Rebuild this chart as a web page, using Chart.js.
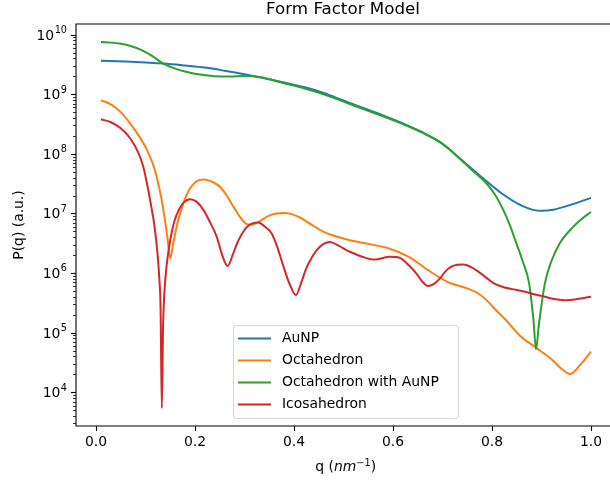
<!DOCTYPE html>
<html>
<head>
<meta charset="utf-8">
<script src="https://cdn.jsdelivr.net/npm/chart.js@4"></script>
<style>
html, body { margin: 0; padding: 0; background: #fff; overflow: hidden; }
#wrap { width: 610px; height: 483px; position: relative; }
</style>
</head>
<body>
<div id="wrap"><canvas id="ffChart"></canvas></div>
<script>
// series names and colours (matplotlib tab10)
const seriesNames = ['AuNP', 'Octahedron', 'Octahedron with AuNP', 'Icosahedron'];
const seriesColors = ['#1f77b4', '#ff7f0e', '#2ca02c', '#d62728'];

// values
const qAuNP = [0.01, 0.06, 0.10, 0.136, 0.18, 0.22, 0.26, 0.30, 0.34, 0.38, 0.42, 0.46, 0.50, 0.54, 0.58, 0.62, 0.66, 0.70, 0.74, 0.78, 0.82, 0.86, 0.883, 0.90, 0.924, 0.96, 1.0];
const pAuNP = [3.66e9, 3.53e9, 3.40e9, 3.27e9, 3.03e9, 2.80e9, 2.48e9, 2.16e9, 1.86e9, 1.58e9, 1.32e9, 1.05e9, 7.85e8, 5.89e8, 4.42e8, 3.24e8, 2.29e8, 1.48e8, 7.76e7, 4.03e7, 2.16e7, 1.35e7, 1.15e7, 1.11e7, 1.16e7, 1.41e7, 1.83e7];

const qOcta = [0.01, 0.03, 0.05, 0.07, 0.09, 0.103, 0.115, 0.123, 0.131, 0.138, 0.144, 0.150, 0.155, 0.160, 0.167, 0.174, 0.182, 0.190, 0.204, 0.219, 0.235, 0.251, 0.265, 0.278, 0.292, 0.305, 0.315, 0.325, 0.352, 0.379, 0.395, 0.412, 0.436, 0.460, 0.487, 0.513, 0.55, 0.592, 0.632, 0.671, 0.710, 0.750, 0.770, 0.789, 0.808, 0.828, 0.859, 0.891, 0.922, 0.940, 0.958, 0.978, 1.0];
const pOcta = [7.92e8, 6.76e8, 5.01e8, 3.16e8, 1.82e8, 1.17e8, 6.76e7, 3.98e7, 2.0e7, 9.12e6, 4.17e6, 1.76e6, 2.82e6, 4.62e6, 8.32e6, 1.29e7, 1.95e7, 2.62e7, 3.51e7, 3.72e7, 3.39e7, 2.79e7, 1.95e7, 1.29e7, 8.51e6, 6.62e6, 6.46e6, 6.97e6, 9.38e6, 1.02e7, 9.77e6, 8.57e6, 6.46e6, 4.92e6, 4.07e6, 3.57e6, 3.09e6, 2.59e6, 1.88e6, 1.12e6, 7.14e5, 5.53e5, 4.68e5, 3.52e5, 2.40e5, 1.63e5, 8.55e4, 5.47e4, 3.48e4, 2.51e4, 2.03e4, 2.87e4, 4.80e4];

const qOctaAu = [0.01, 0.03, 0.05, 0.07, 0.09, 0.11, 0.136, 0.16, 0.184, 0.21, 0.24, 0.27, 0.30, 0.33, 0.38, 0.42, 0.46, 0.50, 0.54, 0.58, 0.62, 0.66, 0.70, 0.74, 0.76, 0.789, 0.805, 0.823, 0.835, 0.847, 0.862, 0.875, 0.884, 0.889, 0.895, 0.907, 0.92, 0.937, 0.964, 0.98, 1.0];
const pOctaAu = [7.52e9, 7.35e9, 7.02e9, 6.46e9, 5.62e9, 4.57e9, 3.27e9, 2.69e9, 2.36e9, 2.14e9, 2.01e9, 1.99e9, 2.02e9, 1.95e9, 1.53e9, 1.26e9, 1.0e9, 7.55e8, 5.65e8, 4.27e8, 3.16e8, 2.26e8, 1.47e8, 7.59e7, 5.31e7, 3.18e7, 2.14e7, 1.14e7, 6.76e6, 3.57e6, 1.58e6, 6.79e5, 1.58e5, 5.26e4, 1.41e5, 6.79e5, 1.58e6, 3.18e6, 5.97e6, 7.94e6, 1.06e7];

const qIcosa = [0.01, 0.03, 0.05, 0.07, 0.085, 0.095, 0.103, 0.111, 0.118, 0.124, 0.128, 0.1305, 0.133, 0.1355, 0.138, 0.143, 0.150, 0.158, 0.167, 0.178, 0.190, 0.203, 0.217, 0.230, 0.244, 0.255, 0.266, 0.276, 0.285, 0.295, 0.305, 0.316, 0.328, 0.341, 0.355, 0.367, 0.379, 0.392, 0.404, 0.415, 0.426, 0.436, 0.446, 0.460, 0.473, 0.490, 0.513, 0.538, 0.561, 0.578, 0.592, 0.605, 0.616, 0.632, 0.647, 0.660, 0.671, 0.683, 0.695, 0.706, 0.717, 0.730, 0.742, 0.758, 0.773, 0.789, 0.804, 0.828, 0.848, 0.867, 0.887, 0.907, 0.925, 0.946, 0.972, 1.0];
const pIcosa = [3.81e8, 3.39e8, 2.69e8, 1.78e8, 1.07e8, 6.31e7, 3.18e7, 1.41e7, 6.31e6, 2.24e6, 7.94e5, 2.51e5, 5.40e3, 1.26e5, 4.47e5, 1.41e6, 3.57e6, 7.24e6, 1.14e7, 1.55e7, 1.74e7, 1.58e7, 1.15e7, 7.24e6, 4.06e6, 2.0e6, 1.31e6, 2.0e6, 3.14e6, 4.57e6, 5.97e6, 6.84e6, 7.06e6, 6.03e6, 4.62e6, 2.63e6, 1.27e6, 6.31e5, 4.28e5, 7.08e5, 1.27e6, 1.82e6, 2.43e6, 3.09e6, 3.34e6, 2.88e6, 2.28e6, 1.88e6, 1.69e6, 1.78e6, 1.88e6, 1.86e6, 1.76e6, 1.35e6, 9.89e5, 7.08e5, 6.05e5, 6.61e5, 8.15e5, 1.07e6, 1.27e6, 1.38e6, 1.40e6, 1.26e6, 1.05e6, 8.32e5, 6.71e5, 5.66e5, 5.25e5, 4.85e5, 4.37e5, 4.0e5, 3.67e5, 3.52e5, 3.67e5, 4.0e5];

const xTicks = [0, 0.2, 0.4, 0.6, 0.8, 1.0];
const yTicks = [1e4, 1e5, 1e6, 1e7, 1e8, 1e9, 1e10];

const FONT = 'DejaVu Sans';

function toPoints(q, p) {
    return q.map((x, i) => ({ x: x, y: p[i] }));
}

// spines, tick marks, 10^n labels, x label and legend like matplotlib draws them
const axesDecor = {
    id: 'axesDecor',
    afterDraw(chart) {
        const { ctx, chartArea: a, scales: { x, y } } = chart;
        const fN = '13.9px "' + FONT + '"';
        const fI = 'italic 13.9px "' + FONT + '"';
        const fS = '9.7px "' + FONT + '"';
        ctx.save();
        ctx.strokeStyle = '#000';
        ctx.lineWidth = 1.1;
        ctx.beginPath();
        ctx.moveTo(a.right + 2, a.top);
        ctx.lineTo(a.left, a.top);
        ctx.lineTo(a.left, a.bottom);
        ctx.lineTo(a.right + 2, a.bottom);
        ctx.stroke();

        // x ticks
        xTicks.forEach(v => {
            const px = Math.round(x.getPixelForValue(v)) + 0.5;
            ctx.beginPath();
            ctx.moveTo(px, a.bottom);
            ctx.lineTo(px, a.bottom + 5);
            ctx.stroke();
        });

        // y ticks, major and minor
        for (let e = 3; e <= 10; e++) {
            for (let k = 1; k <= 9; k++) {
                const v = k * Math.pow(10, e);
                if (v < y.min || v > y.max) continue;
                const py = Math.round(y.getPixelForValue(v)) + 0.5;
                ctx.lineWidth = k === 1 ? 1.1 : 0.8;
                ctx.beginPath();
                ctx.moveTo(a.left, py);
                ctx.lineTo(a.left - (k === 1 ? 5 : 3), py);
                ctx.stroke();
            }
        }

        // y tick labels 10^n with a raised exponent
        ctx.fillStyle = '#000';
        ctx.textBaseline = 'alphabetic';
        ctx.textAlign = 'left';
        yTicks.forEach(v => {
            const py = y.getPixelForValue(v);
            const ex = String(Math.round(Math.log10(v)));
            ctx.font = fN; const wb = ctx.measureText('10').width;
            ctx.font = fS; const we = ctx.measureText(ex).width;
            const x0 = a.left - 9.5 - wb - we;
            ctx.font = fN; ctx.fillText('10', x0, py + 5);
            ctx.font = fS; ctx.fillText(ex, x0 + wb + 0.5, py - 1.7);
        });

        // x axis label: q (nm^-1), nm in italic
        const cx = x.getPixelForValue(0.5045);
        const base = 471;
        ctx.font = fN; const w1 = ctx.measureText('q (').width; const w4 = ctx.measureText(')').width;
        ctx.font = fI; const w2 = ctx.measureText('nm').width;
        ctx.font = fS; const w3 = ctx.measureText('−1').width;
        let tx = cx - (w1 + w2 + w3 + w4) / 2;
        ctx.font = fN; ctx.fillText('q (', tx, base); tx += w1;
        ctx.font = fI; ctx.fillText('nm', tx, base); tx += w2;
        ctx.font = fS; ctx.fillText('−1', tx, base - 5.5); tx += w3;
        ctx.font = fN; ctx.fillText(')', tx, base);

        // legend
        ctx.fillStyle = 'rgba(255,255,255,0.8)';
        ctx.strokeStyle = 'rgba(204,204,204,0.8)';
        ctx.lineWidth = 1;
        ctx.beginPath();
        ctx.roundRect(233.5, 325.5, 225, 93, 3);
        ctx.fill();
        ctx.stroke();
        ctx.font = fN;
        ctx.textBaseline = 'middle';
        chart.data.datasets.forEach((ds, i) => {
            const ly = 338.5 + i * 22;
            ctx.strokeStyle = ds.borderColor;
            ctx.lineWidth = 2;
            ctx.beginPath();
            ctx.moveTo(238, ly);
            ctx.lineTo(271, ly);
            ctx.stroke();
            ctx.fillStyle = '#000';
            ctx.fillText(ds.label, 282, ly);
        });
        ctx.restore();
    }
};

const allQ = [qAuNP, qOcta, qOctaAu, qIcosa];
const allP = [pAuNP, pOcta, pOctaAu, pIcosa];

const ctx1 = document.getElementById('ffChart').getContext('2d');
new Chart(ctx1, {
    type: 'line',
    data: {
        datasets: seriesNames.map((name, i) => ({
            label: name,
            data: toPoints(allQ[i], allP[i]),
            borderColor: seriesColors[i],
            backgroundColor: seriesColors[i],
            borderWidth: 2,
            pointRadius: 0,
            fill: false,
            cubicInterpolationMode: 'monotone',
            order: seriesNames.length - i // later series on top, as in matplotlib
        }))
    },
    options: {
        responsive: true,
        maintainAspectRatio: false,
        animation: false,
        layout: { padding: 0 },
        plugins: {
            legend: { display: false },
            tooltip: { enabled: false },
            title: {
                display: true,
                text: 'Form Factor Model',
                fullSize: false,
                color: '#000',
                font: { family: FONT, size: 16.7, weight: 'normal' },
                padding: { top: 0, bottom: 4 }
            }
        },
        scales: {
            x: {
                type: 'linear',
                min: -0.0404,
                max: 1.0384,
                grid: { display: false, drawTicks: false },
                border: { display: false },
                ticks: {
                    color: '#000',
                    font: { family: FONT, size: 13.9 },
                    padding: 8,
                    maxRotation: 0,
                    autoSkip: false,
                    callback: v => v.toFixed(1)
                },
                afterBuildTicks: s => { s.ticks = xTicks.map(v => ({ value: v })); },
                afterFit: s => { s.height = 57; }
            },
            y: {
                type: 'logarithmic',
                min: 2723,
                max: 1.507e10,
                grid: { display: false, drawTicks: false },
                border: { display: false },
                ticks: { display: false },
                title: {
                    display: true,
                    text: 'P(q) (a.u.)',
                    color: '#000',
                    font: { family: FONT, size: 13.9 },
                    padding: { top: 11.5, bottom: 0 }
                },
                afterBuildTicks: s => { s.ticks = yTicks.map(v => ({ value: v })); },
                afterFit: s => { s.width = 76; }
            }
        }
    },
    plugins: [axesDecor]
});
</script>
</body>
</html>
